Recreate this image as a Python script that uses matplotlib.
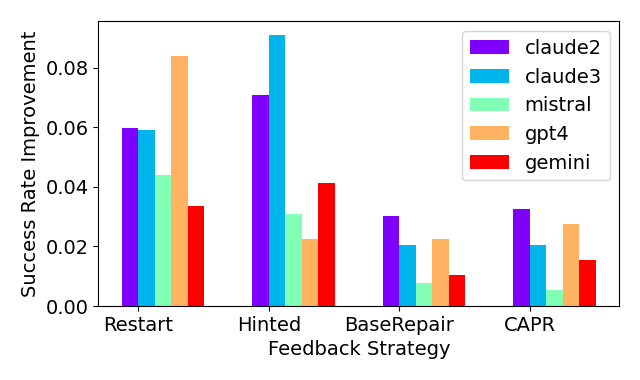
import matplotlib
matplotlib.use("Agg")
import matplotlib.pyplot as plt
import numpy as np

strategies = ["Restart", "Hinted", "BaseRepair", "CAPR"]
models = ["claude2", "claude3", "mistral", "gpt4", "gemini"]
claude2 = [0.0599, 0.0709, 0.0301, 0.0325]
claude3 = [0.0589, 0.0910, 0.0204, 0.0204]
mistral = [0.0438, 0.0308, 0.0077, 0.0054]
gpt4 = [0.0840, 0.0224, 0.0224, 0.0274]
gemini = [0.0335, 0.0412, 0.0104, 0.0154]
series = [claude2, claude3, mistral, gpt4, gemini]

plt.rcParams['font.size'] = 14
fig, ax = plt.subplots(figsize=(6.4, 3.8), dpi=100)
x = np.arange(len(strategies))
w = 0.126
colors = plt.cm.rainbow(np.linspace(0, 1, len(models)))
for k, (name, vals) in enumerate(zip(models, series)):
    ax.bar(x + (k - 0.5) * w, vals, w, label=name, color=colors[k])
ax.set_xticks(x)
ax.set_xticklabels(strategies)
ax.set_xlabel("Feedback Strategy")
ax.set_ylabel("Success Rate Improvement")
ax.legend(loc="upper right")
fig.subplots_adjust(left=0.1536, right=0.9677, top=0.944, bottom=0.1947)
fig.savefig("out.png")
